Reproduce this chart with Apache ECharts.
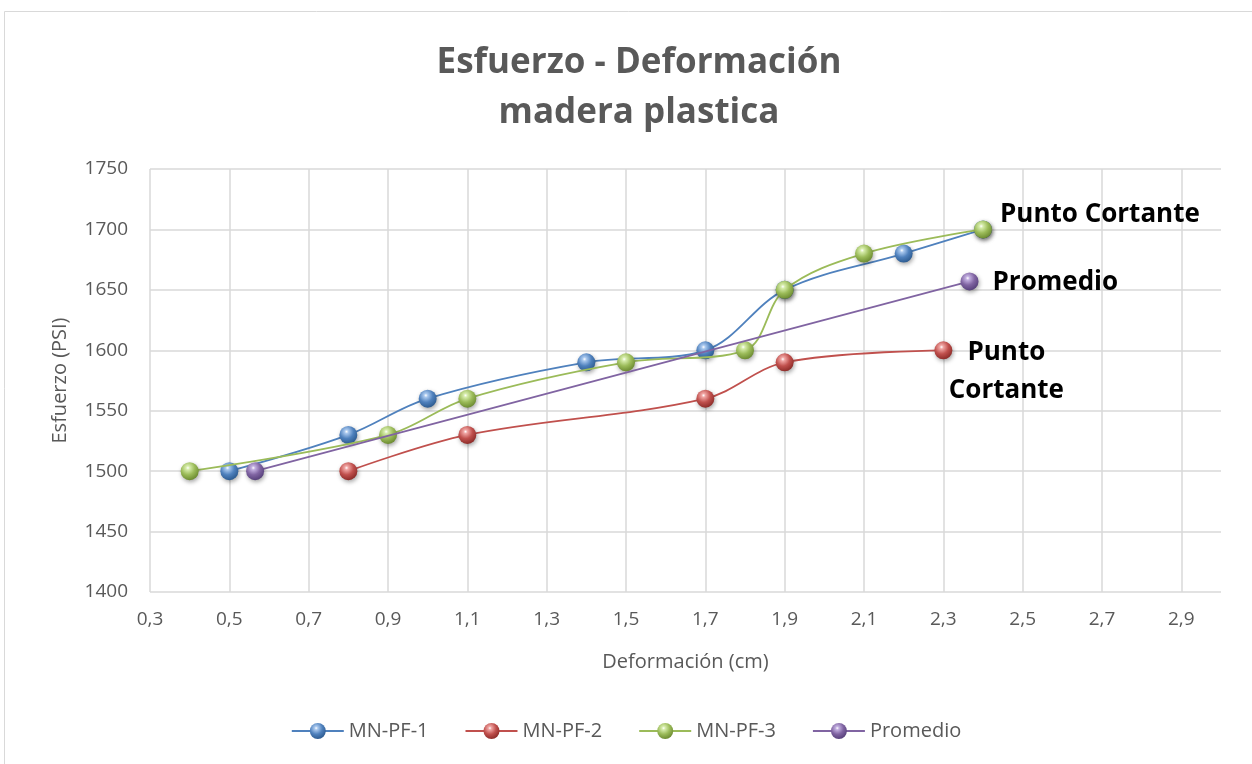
<!DOCTYPE html>
<html>
<head>
<meta charset="utf-8">
<script src="https://cdn.jsdelivr.net/npm/echarts@6/dist/echarts.min.js"></script>
<style>
html,body{margin:0;padding:0;background:#fff;}
#c{width:1252px;height:764px;}
</style>
</head>
<body>
<div id="c"></div>
<script>
// ---- Data ----
const titleText = 'Esfuerzo - Deformación\nmadera plastica';
const xName = 'Deformación (cm)';
const yName = 'Esfuerzo (PSI)';
const seriesNames = ['MN-PF-1', 'MN-PF-2', 'MN-PF-3', 'Promedio'];

const pf1X = [0.5, 0.8, 1.0, 1.4, 1.7, 1.9, 2.2, 2.4];
const pf1Y = [1500, 1530, 1560, 1590, 1600, 1650, 1680, 1700];

const pf2X = [0.8, 1.1, 1.7, 1.9, 2.3];
const pf2Y = [1500, 1530, 1560, 1590, 1600];

const pf3X = [0.4, 0.9, 1.1, 1.5, 1.8, 1.9, 2.1, 2.4];
const pf3Y = [1500, 1530, 1560, 1590, 1600, 1650, 1680, 1700];

const promX = [0.565, 2.366];
const promY = [1500, 1657];

const endLabels = ['', 'Punto\nCortante', 'Punto Cortante', 'Promedio'];

// ---- Styles ----
const colors = ['#4F81BD', '#C0504D', '#9BBB59', '#8064A2'];
const lightC = ['#a9c8ee', '#f0a5a3', '#d6ecab', '#c2afe0'];
const darkC = ['#2c5a8f', '#8c2b28', '#6b8a30', '#56407a'];

function sphere(i) {
  return new echarts.graphic.RadialGradient(0.4, 0.32, 0.7, [
    {offset: 0, color: '#ffffff'},
    {offset: 0.15, color: lightC[i]},
    {offset: 0.55, color: colors[i]},
    {offset: 1, color: darkC[i]}
  ]);
}

const labelFont = {fontFamily: 'Open Sans', fontWeight: 'bold', fontSize: 26, color: '#000'};
const labelCfg = [
  null,
  Object.assign({show: true, position: 'right', distance: 4, align: 'center', verticalAlign: 'middle', offset: [50, 21], lineHeight: 38}, labelFont),
  Object.assign({show: true, position: 'right', distance: 8, offset: [0, -15]}, labelFont),
  Object.assign({show: true, position: 'right', distance: 14, offset: [0, 1]}, labelFont)
];

function build(xs, ys, i) {
  return xs.map((x, k) => {
    const item = {value: [x, ys[k]]};
    if (k === xs.length - 1 && endLabels[i]) {
      item.label = Object.assign({formatter: endLabels[i]}, labelCfg[i]);
    }
    return item;
  });
}

const allX = [pf1X, pf2X, pf3X, promX];
const allY = [pf1Y, pf2Y, pf3Y, promY];
const smooths = [0.35, 0.35, 0.35, false];

const chart = echarts.init(document.getElementById('c'), null, {renderer: 'canvas'});
const fmt = v => v.toFixed(1).replace('.', ',');

const series = seriesNames.map((n, i) => ({
  name: n,
  type: 'line',
  data: build(allX[i], allY[i], i),
  smooth: smooths[i],
  symbol: 'circle',
  symbolSize: 18,
  showAllSymbol: true,
  lineStyle: {color: colors[i], width: 1.8},
  itemStyle: {
    color: sphere(i),
    borderWidth: 0,
    shadowColor: 'rgba(0,0,0,0.35)',
    shadowBlur: 4,
    shadowOffsetX: 1,
    shadowOffsetY: 2
  },
  emphasis: {disabled: true},
  z: 2 + i
}));

chart.setOption({
  animation: false,
  backgroundColor: '#fff',
  graphic: [{
    type: 'rect',
    shape: {x: 4.5, y: 11.5, width: 1400, height: 900},
    style: {fill: 'none', stroke: '#d9d9d9', lineWidth: 1},
    silent: true,
    z: -10
  }],
  title: {
    text: titleText,
    left: 634,
    top: 33,
    textAlign: 'center',
    textStyle: {fontFamily: 'Open Sans', fontWeight: 'bold', fontSize: 35, color: '#595959', lineHeight: 50}
  },
  grid: {left: 150, right: 31, top: 169, bottom: 172, containLabel: false},
  xAxis: {
    type: 'value',
    min: 0.3, max: 3.0, interval: 0.2,
    name: xName,
    nameLocation: 'middle',
    nameGap: 60,
    nameTextStyle: {fontFamily: 'Open Sans', fontSize: 20, color: '#595959'},
    axisLine: {show: false},
    axisTick: {show: false},
    axisLabel: {fontFamily: 'Open Sans', fontSize: 19, color: '#595959', margin: 18, showMaxLabel: false, formatter: fmt},
    splitLine: {show: true, showMaxLine: false, lineStyle: {color: '#d9d9d9', width: 1.5}}
  },
  yAxis: {
    type: 'value',
    min: 1400, max: 1750, interval: 50,
    name: yName,
    nameLocation: 'middle',
    nameGap: 80,
    nameTextStyle: {fontFamily: 'Open Sans', fontSize: 20, color: '#595959'},
    axisLine: {show: false},
    axisTick: {show: false},
    axisLabel: {fontFamily: 'Open Sans', fontSize: 19, color: '#595959', margin: 22, formatter: v => String(v)},
    splitLine: {show: true, lineStyle: {color: '#d9d9d9', width: 1.5}}
  },
  legend: {
    data: seriesNames,
    bottom: 18,
    left: 'center',
    itemWidth: 52,
    itemHeight: 20,
    itemGap: 36,
    textStyle: {fontFamily: 'Open Sans', fontSize: 20, color: '#595959'}
  },
  series: series
});
</script>
</body>
</html>
